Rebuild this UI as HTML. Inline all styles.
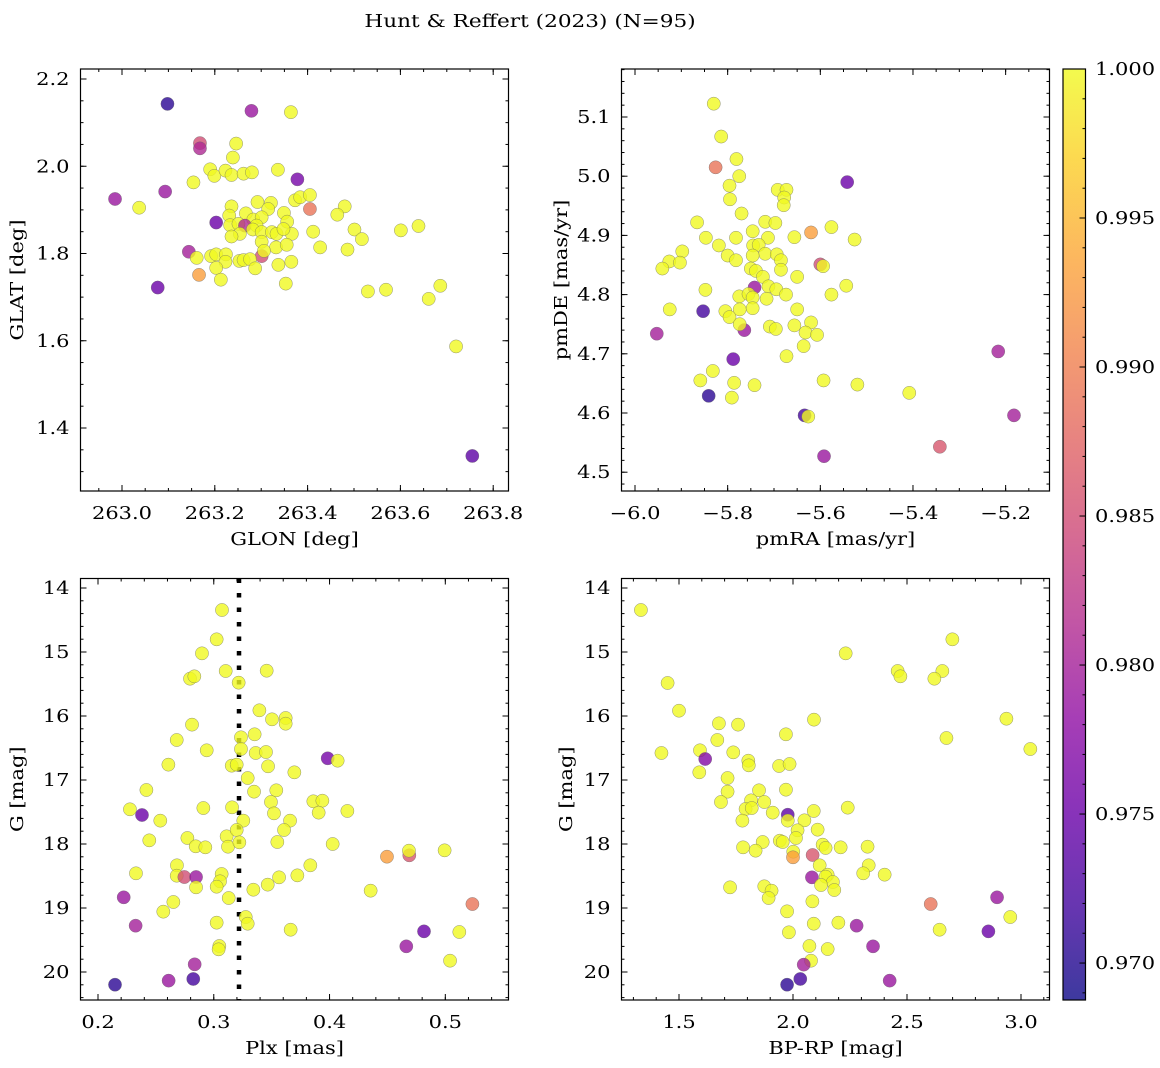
<!DOCTYPE html>
<html><head><meta charset="utf-8"><style>
html,body{margin:0;padding:0;background:#fff;}
svg{display:block;font-family:"DejaVu Serif","Liberation Serif",serif;}
</style></head><body>
<svg id="fig" width="1160" height="1068" viewBox="0 0 1160 1068" xmlns="http://www.w3.org/2000/svg">
<defs>
<linearGradient id="plasma" x1="0" y1="1" x2="0" y2="0">
<stop offset="0" stop-color="#0d0887"/><stop offset="0.1" stop-color="#41049d"/><stop offset="0.2" stop-color="#6a00a8"/><stop offset="0.3" stop-color="#8f0da4"/><stop offset="0.4" stop-color="#b12a90"/><stop offset="0.5" stop-color="#cc4778"/><stop offset="0.6" stop-color="#e16462"/><stop offset="0.7" stop-color="#f2844b"/><stop offset="0.8" stop-color="#fca636"/><stop offset="0.9" stop-color="#fcce25"/><stop offset="1" stop-color="#f0f921"/>
</linearGradient>
</defs>
<text x="0" y="0" transform="translate(530,27) scale(1.2,1)" text-anchor="middle" font-size="18">Hunt &amp; Reffert (2023) (N=95)</text>
</svg>
<script>
// ---- data ----
const glon=[263.098,263.279,263.364,263.168,263.168,263.246,263.239,263.190,263.199,263.223,263.236,263.262,263.280,263.336,263.378,263.154,262.985,263.093,263.037,263.373,263.384,263.405,263.405,263.480,263.464,263.236,263.292,263.321,263.315,263.267,263.283,263.301,263.349,263.356,263.203,263.231,263.233,263.251,263.265,263.290,263.254,263.236,263.282,263.301,263.323,263.333,263.366,263.348,263.412,263.501,263.517,263.601,263.639,263.301,263.332,263.355,263.427,263.486,263.144,263.161,263.192,263.203,263.224,263.223,263.203,263.301,263.306,263.253,263.262,263.276,263.287,263.337,263.365,263.166,263.213,263.353,263.077,263.530,263.569,263.661,263.686,263.720,263.755];
const glat=[2.143,2.127,2.124,2.053,2.041,2.052,2.020,1.993,1.978,1.990,1.980,1.983,1.986,1.992,1.970,1.963,1.925,1.942,1.905,1.922,1.929,1.934,1.902,1.908,1.889,1.908,1.918,1.916,1.902,1.892,1.878,1.883,1.893,1.873,1.871,1.887,1.865,1.868,1.864,1.864,1.845,1.839,1.855,1.849,1.849,1.845,1.845,1.856,1.850,1.855,1.833,1.853,1.863,1.827,1.814,1.820,1.814,1.809,1.804,1.790,1.794,1.798,1.798,1.781,1.767,1.794,1.806,1.783,1.785,1.787,1.766,1.774,1.781,1.751,1.740,1.731,1.722,1.713,1.717,1.696,1.726,1.587,1.336];
const prob1=[0.9705,0.979,1,0.985,0.981,1,1,1,1,1,1,1,1,1,0.976,1,0.979,0.979,1,1,1,1,0.989,1,1,1,1,1,1,1,1,1,1,1,0.975,1,1,1,0.981,1,1,1,1,1,1,1,1,1,1,1,1,1,1,1,1,1,1,1,0.980,1,1,1,1,1,1,0.985,1,1,1,1,1,1,1,0.993,1,1,0.975,1,1,1,1,1,0.974];

const pmra=[-5.830,-5.814,-5.826,-5.781,-5.775,-5.796,-5.795,-5.542,-5.692,-5.673,-5.678,-5.679,-5.770,-5.866,-5.719,-5.697,-5.746,-5.620,-5.576,-5.847,-5.782,-5.713,-5.656,-5.526,-5.819,-5.800,-5.782,-5.745,-5.733,-5.719,-5.746,-5.694,-5.685,-5.685,-5.898,-5.926,-5.941,-5.903,-5.600,-5.594,-5.750,-5.739,-5.724,-5.650,-5.742,-5.712,-5.695,-5.544,-5.576,-5.848,-5.775,-5.755,-5.746,-5.716,-5.674,-5.925,-5.853,-5.805,-5.774,-5.746,-5.650,-5.796,-5.764,-5.774,-5.709,-5.696,-5.656,-5.620,-5.632,-5.607,-5.636,-5.953,-5.673,-5.788,-5.832,-5.859,-5.786,-5.742,-5.791,-5.841,-5.593,-5.520,-5.408,-5.634,-5.626,-5.216,-5.182,-5.342,-5.592];
const pmde=[5.1225,5.067,5.015,5.029,5.000,4.984,4.961,4.990,4.977,4.977,4.964,4.951,4.937,4.922,4.923,4.921,4.907,4.905,4.914,4.896,4.896,4.896,4.897,4.893,4.883,4.866,4.858,4.883,4.884,4.869,4.866,4.868,4.858,4.842,4.873,4.856,4.844,4.854,4.851,4.848,4.844,4.840,4.830,4.830,4.812,4.814,4.809,4.815,4.800,4.808,4.797,4.801,4.795,4.793,4.800,4.775,4.772,4.772,4.775,4.777,4.775,4.762,4.740,4.750,4.746,4.742,4.748,4.753,4.736,4.732,4.713,4.734,4.696,4.691,4.671,4.655,4.651,4.647,4.626,4.629,4.655,4.648,4.634,4.596,4.594,4.704,4.596,4.543,4.527];
const prob2=[1,1,0.989,1,1,1,1,0.975,1,1,1,1,1,1,1,1,1,0.993,1,1,1,1,1,1,1,1,1,1,1,1,1,1,1,1,1,1,1,1,0.985,1,1,1,1,1,0.979,1,1,1,1,1,1,1,1,1,1,1,0.972,1,1,1,1,1,0.979,1,1,1,1,1,1,1,1,0.980,1,0.975,1,1,1,1,1,0.9705,1,1,1,0.972,1,0.980,0.980,0.986,0.979];

const plx=[0.3071,0.3025,0.2898,0.3103,0.3457,0.2795,0.2832,0.3215,0.3394,0.3503,0.3621,0.3621,0.2812,0.2680,0.2939,0.3235,0.3235,0.3353,0.3362,0.3451,0.3469,0.3155,0.3198,0.2608,0.3984,0.4070,0.3696,0.3293,0.3348,0.3540,0.3494,0.3520,0.2418,0.2276,0.2380,0.2538,0.2910,0.3158,0.3255,0.3659,0.3607,0.3860,0.3938,0.3906,0.4154,0.2443,0.2772,0.2844,0.2927,0.3111,0.3123,0.3198,0.3221,0.3549,0.4027,0.4496,0.4689,0.4686,0.4994,0.2328,0.2682,0.2680,0.2746,0.2847,0.2847,0.3068,0.3054,0.3025,0.3129,0.3342,0.3466,0.3564,0.3722,0.3834,0.4355,0.2222,0.2651,0.2564,0.5234,0.3276,0.3293,0.3025,0.3664,0.2325,0.4816,0.5121,0.4663,0.5041,0.3048,0.3042,0.2835,0.2610,0.2823,0.2147];
const gmag3=[14.344,14.802,15.021,15.297,15.292,15.417,15.380,15.479,15.911,16.052,16.031,16.120,16.135,16.375,16.536,16.333,16.516,16.286,16.578,16.563,16.786,16.776,16.760,16.760,16.661,16.698,16.880,16.969,17.182,17.161,17.344,17.521,17.156,17.458,17.547,17.635,17.438,17.427,17.635,17.635,17.781,17.333,17.323,17.510,17.484,17.943,17.906,18.036,18.052,17.880,18.042,17.781,17.974,17.969,18.000,18.198,18.177,18.104,18.099,18.458,18.333,18.495,18.516,18.516,18.677,18.469,18.583,18.667,18.844,18.714,18.635,18.521,18.490,18.333,18.729,18.833,18.906,19.057,18.938,19.141,19.245,19.229,19.339,19.276,19.365,19.375,19.599,19.823,19.594,19.646,19.880,20.135,20.109,20.198];
const prob3=[1,1,1,1,1,1,1,1,1,1,1,1,1,1,1,1,1,1,1,1,1,1,1,1,0.976,1,1,1,1,1,1,1,1,1,0.975,1,1,1,1,1,1,1,1,1,1,1,1,1,1,1,1,1,1,1,1,0.993,0.986,1,1,1,1,1,0.985,0.979,1,1,1,1,1,1,1,1,1,1,1,0.979,1,1,0.989,1,1,1,1,0.980,0.975,1,0.979,1,1,1,0.980,0.979,0.972,0.9705];

const bprp=[1.333,2.699,2.231,2.459,2.471,2.655,2.620,1.450,1.500,2.936,2.673,3.041,2.092,1.675,1.759,1.969,1.668,1.423,1.592,1.615,1.738,1.804,1.806,1.939,1.985,1.589,1.713,1.713,1.684,1.851,1.969,1.816,1.874,1.792,1.819,1.911,1.977,1.977,1.778,2.091,2.240,2.050,2.020,2.108,2.013,1.942,1.955,1.867,1.781,1.836,2.001,2.000,2.086,2.130,2.143,2.209,2.327,2.117,2.332,2.308,2.402,2.083,2.152,2.143,2.175,2.123,2.181,1.724,1.874,1.906,1.893,2.085,1.974,2.091,2.199,2.279,1.982,2.604,2.895,2.953,2.643,2.857,2.351,2.072,2.152,2.079,2.047,2.032,1.974,2.424];
const gmag4=[14.344,14.802,15.021,15.297,15.380,15.297,15.417,15.484,15.917,16.042,16.344,16.516,16.057,16.115,16.135,16.286,16.375,16.578,16.536,16.672,16.568,16.698,16.771,16.781,16.750,16.880,16.969,17.182,17.344,17.161,17.151,17.318,17.344,17.453,17.438,17.510,17.542,17.635,17.635,17.484,17.432,17.630,17.786,17.776,17.906,17.948,17.969,17.969,18.052,18.104,18.120,18.208,18.172,18.010,18.062,18.052,18.042,18.333,18.333,18.458,18.479,18.521,18.479,18.510,18.594,18.641,18.719,18.677,18.661,18.729,18.844,18.896,19.052,19.245,19.229,19.276,19.380,18.938,18.833,19.141,19.339,19.365,19.599,19.594,19.641,19.823,19.885,20.109,20.198,20.135];
const prob4=[1,1,1,1,1,1,1,1,1,1,1,1,1,1,1,1,1,1,1,0.977,1,1,1,1,1,1,1,1,1,1,1,1,1,1,1,1,0.974,1,1,1,1,1,1,1,1,1,1,1,1,1,1,0.993,0.986,1,1,1,1,1,1,1,1,0.979,1,1,1,1,1,1,1,1,1,1,1,1,1,0.979,1,0.989,0.979,1,1,0.975,0.979,1,1,1,0.980,0.972,0.9705,0.979];

const plxLine=[0.3218];
const xt1=["263.0","263.2","263.4","263.6","263.8"], yt1=["1.4","1.6","1.8","2.0","2.2"];
const xt2=["−6.0","−5.8","−5.6","−5.4","−5.2"], yt2=["4.5","4.6","4.7","4.8","4.9","5.0","5.1"];
const xt3=["0.2","0.3","0.4","0.5"], yt3=["14","15","16","17","18","19","20"];
const xt4=["1.5","2.0","2.5","3.0"];
const cbTicks=["0.970","0.975","0.980","0.985","0.990","0.995","1.000"];

// ---- drawing ----
const NS="http://www.w3.org/2000/svg";
const svg=document.getElementById('fig');
function mk(tag,attrs,parent){const e=document.createElementNS(NS,tag);for(const k in attrs)e.setAttribute(k,attrs[k]);(parent||svg).appendChild(e);return e;}
const stops=[[0,13,8,135],[0.1,65,4,157],[0.2,106,0,168],[0.3,143,13,164],[0.4,177,42,144],[0.5,204,71,120],[0.6,225,100,98],[0.7,242,132,75],[0.8,252,166,54],[0.9,252,206,37],[1,240,249,33]];
function plasma(t){t=Math.max(0,Math.min(1,t));for(let i=1;i<stops.length;i++){if(t<=stops[i][0]){const a=stops[i-1],b=stops[i],f=(t-a[0])/(b[0]-a[0]);return `rgb(${Math.round(a[1]+f*(b[1]-a[1]))},${Math.round(a[2]+f*(b[2]-a[2]))},${Math.round(a[3]+f*(b[3]-a[3]))})`;}}return 'rgb(240,249,33)';}
const vmin=0.96876,vmax=1.0;
const SX=1.2, FS=17.5;
function txt(x,y,s,anchor,size,name,rot){const t=mk('text',{x:0,y:0,'text-anchor':anchor,'font-size':size,transform:`translate(${x},${y})`+(rot?` rotate(${rot})`:'')+` scale(${SX},1)`});t.textContent=s;return t;}

function panel(cfg){
  const g=mk('g',{});
  
  
  const {L,R,T,B}=cfg;
  const sx=v=>cfg.x0+(v-cfg.xa)*cfg.kx, sy=v=>cfg.y0+(v-cfg.ya)*cfg.ky;
  const clip='clip-'+cfg.name;
  const cp=mk('clipPath',{id:clip},g);mk('rect',{x:L,y:T,width:R-L,height:B-T},cp);
  const marks=mk('g',{'clip-path':`url(#${clip})`},g);
  
  
  if(cfg.vline){cfg.vline.forEach(v=>{const l=mk('line',{x1:sx(v),x2:sx(v),y1:T,y2:B,stroke:'#000','stroke-width':4.5,'stroke-dasharray':'4.5 10'},marks);});}
  for(let i=0;i<cfg.xs.length;i++){
    const c=mk('circle',{cx:sx(cfg.xs[i]),cy:sy(cfg.ys[i]),r:6.6,fill:plasma((cfg.ps[i]-vmin)/(vmax-vmin)),'fill-opacity':0.8,stroke:'#666','stroke-opacity':0.7,'stroke-width':0.5},marks);
    
    
  }
  mk('rect',{x:L,y:T,width:R-L,height:B-T,fill:'none',stroke:'#000','stroke-width':1.2},g);
  const tk=mk('g',{stroke:'#000','stroke-width':1},g);
  for(let v=cfg.xminor[0];v<=cfg.xminor[1]+1e-9;v+=cfg.xminor[2]){const x=sx(v);if(x<L||x>R)continue;mk('line',{x1:x,x2:x,y1:B,y2:B-3},tk);mk('line',{x1:x,x2:x,y1:T,y2:T+3},tk);}
  for(let v=cfg.yminor[0];v<=cfg.yminor[1]+1e-9;v+=cfg.yminor[2]){const y=sy(v);if(y<T||y>B)continue;mk('line',{x1:L,x2:L+3,y1:y,y2:y},tk);mk('line',{x1:R,x2:R-3,y1:y,y2:y},tk);}
  cfg.xt.forEach(s=>{const v=parseFloat(s.replace('−','-'));const x=sx(v);mk('line',{x1:x,x2:x,y1:B,y2:B-6},tk);mk('line',{x1:x,x2:x,y1:T,y2:T+6},tk);txt(x,B+28,s,'middle',FS,'x-tick-label');});
  cfg.yt.forEach(s=>{const v=parseFloat(s);const y=sy(v);mk('line',{x1:L,x2:L+6,y1:y,y2:y},tk);mk('line',{x1:R,x2:R-6,y1:y,y2:y},tk);txt(L-11,y+6,s,'end',FS,'y-tick-label');});
  txt((L+R)/2,B+54,cfg.xl,'middle',FS,'x-axis-title');
  txt(cfg.ylx,(T+B)/2,cfg.yl,'middle',FS,'y-axis-title',-90);
}
panel({name:'glon-glat-panel',L:80.5,R:508.5,T:69,B:491,xs:glon,ys:glat,ps:prob1,x0:122,xa:263,kx:464,y0:79,ya:2.2,ky:-436.25,xt:xt1,yt:yt1,xminor:[262.9,263.85,0.05],yminor:[1.25,2.25,0.05],xl:'GLON [deg]',yl:'GLAT [deg]',ylx:23});
panel({name:'propermotion-panel',L:621.5,R:1049.5,T:69,B:491,xs:pmra,ys:pmde,ps:prob2,x0:635,xa:-6,kx:463.3,y0:117,ya:5.1,ky:-592,xt:xt2,yt:yt2,xminor:[-6.05,-5.1,0.05],yminor:[4.46,5.2,0.02],xl:'pmRA [mas/yr]',yl:'pmDE [mas/yr]',ylx:567});
panel({name:'parallax-mag-panel',L:80.5,R:508.5,T:578.5,B:1000,xs:plx,ys:gmag3,ps:prob3,x0:98,xa:0.2,kx:1157.7,y0:588,ya:14,ky:64,xt:xt3,yt:yt3,xminor:[0.18,0.56,0.02],yminor:[13.8,20.5,0.2],xl:'Plx [mas]',yl:'G [mag]',ylx:23,vline:plxLine});
panel({name:'color-mag-panel',L:621.5,R:1049.5,T:578.5,B:1000,xs:bprp,ys:gmag4,ps:prob4,x0:679,xa:1.5,kx:228,y0:588,ya:14,ky:64,xt:xt4,yt:yt3,xminor:[1.2,3.2,0.1],yminor:[13.8,20.5,0.2],xl:'BP-RP [mag]',yl:'G [mag]',ylx:572});

// colorbar
const cb=mk('g',{});


const cT=69,cB=1000,cL=1063,cR=1085.5;
const cy=v=>cT+(vmax-v)/(vmax-vmin)*(cB-cT);
mk('rect',{x:cL,y:cT,width:cR-cL,height:cB-cT,fill:'url(#plasma)','fill-opacity':0.8},cb);
mk('rect',{x:cL,y:cT,width:cR-cL,height:cB-cT,fill:'none',stroke:'#000','stroke-width':1.2},cb);
for(let v=0.969;v<=1.00001;v+=0.001){mk('line',{x1:cR,x2:cR-3,y1:cy(v),y2:cy(v),stroke:'#000','stroke-width':1},cb);}
cbTicks.forEach(s=>{const y=cy(parseFloat(s));mk('line',{x1:cR,x2:cR-6,y1:y,y2:y,stroke:'#000','stroke-width':1},cb);txt(1095,y+6,s,'start',FS,'colorbar-tick-label');});
</script>
</body></html>
